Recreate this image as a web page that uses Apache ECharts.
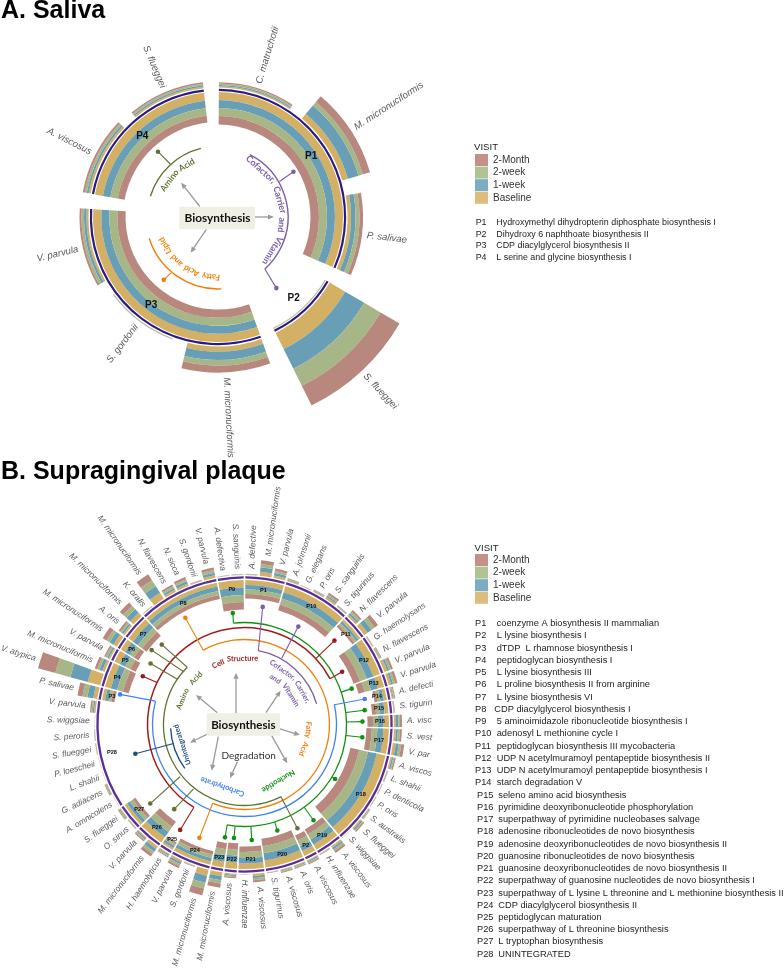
<!DOCTYPE html>
<html><head><meta charset="utf-8">
<style>html,body{margin:0;padding:0;background:#fff}#c{width:784px;height:969px}</style>
<script src="https://cdn.jsdelivr.net/npm/echarts@6/dist/echarts.min.js"></script>
</head><body><div id="c"></div>
<script>
const visits = ['Baseline', '1-week', '2-week', '2-Month'];
const legendOrder = ['2-Month', '2-week', '1-week', 'Baseline'];

// A. Saliva
const salivaSpecies = ['C. matruchotii','M. micronuciformis','P. salivae','S. flueggei','M. micronuciformis','S. gordonii','V. parvula','A. viscosus','S. flueggei'];
const salivaBaseline = [1.3, 6, 3.5, 18, 5, 0.3, 2, 2, 1.5];
const salivaWeek1    = [1.3, 11, 4.5, 22, 8.5, 0.3, 2.5, 2, 1.5];
const salivaWeek2    = [1.3, 4.5, 4, 19, 5.5, 0.3, 2.5, 2, 1.5];
const salivaMonth2   = [1.3, 7.5, 3.5, 22, 7, 0.3, 2, 2, 1.5];
const salivaPathwayIds = ['P1','P2','P3','P4'];
const salivaPathwayNames = ['Hydroxymethyl dihydropterin diphosphate biosynthesis I','Dihydroxy 6 naphthoate biosynthesis II','CDP diacylglycerol biosynthesis II','L serine and glycine biosynthesis I'];
const salivaPathwaySpeciesCount = [3, 1, 3, 2];
const salivaPathBaseline = [8, 0.3, 8.3, 8];
const salivaPathWeek1    = [8, 0.3, 8, 7.5];
const salivaPathWeek2    = [8, 0.3, 8, 7.5];
const salivaPathMonth2   = [8.5, 0.3, 8.2, 7];

// B. Supragingival plaque (species run clockwise from 12 o'clock)
const plaqueSpecies = ['A. defective','M. micronuciformis','V. parvula','A. johnsonii','G. elegans','P. oris','S. sanguinis','S. tigurinus','N. flavescens','V. parvula','G. haemolysans','N. flavescens','V. parvula','V. parvula','A. defecti','S. tigurin','A. visc','S. vest','V. par','A. viscos','L. shahii','P. denticola','P. oris','S. australis','S. flueggei','S. wiggsiae','A. viscosus','H. influenzae','A. viscosus','A. oris','A. viscosus','S. tigurinus','A. viscosus','H. influenzae','A. viscosus','M. micronuciformis','M. micronuciformis','S. gordonii','V. parvula','H. haemolyticus','M. micronuciformis','V. parvula','O. sinus','S. flueggei','A. omnicolens','G. adiacens','L. shahii','P. loescheii','S. flueggei','S. peroris','S. wiggsiae','V. parvula','P. salivae','V. atypica','M. micronuciformis','V. parvula','M. micronuciformis','A. oris','M. micronuciformis','K. oralis','M. micronuciformis','N. flavescens','N. sicca','S. gordonii','V. parvula','A. defectiva','S. sanguinis'];
const plaqueBaseline = [.3,4,2.5,.8,.3,.6,2,.5,2,4,
 .4,.8,3,2.5,.9,.4,2,2,3,1.5,
 .4,.3,.3,.6,1.5,.1,2,.4,1.1,.9,
 .9,.3,2.2,.1,1.1,4,6.5,.4,2.1,1,
 3,1.2,.4,.9,.1,.8,.1,.1,.3,.3,
 .1,1.4,4,13,2.5,1.6,4,1.9,4.5,.3,
 7,2,2.4,.4,2.6,.2,.3];
const plaqueWeek1 = [.3,4.5,2.5,.7,.2,.7,1.5,.5,2,5,
 .4,.7,2,2,.9,.4,2.5,2,3,1.5,
 .4,.3,.3,.7,1.5,.1,2,.4,1.1,.9,
 .9,.2,2.1,.1,1.2,4,7,.4,2.2,1,
 3.5,1.3,.4,.9,.1,.7,.1,.1,.2,.2,
 .1,1.4,6,18,3,1.7,4.5,1.8,5,.2,
 8,2,2.4,.4,2.7,.2,.2];
const plaqueWeek2 = [.3,3,2,.7,.2,.6,1.5,.5,2,4,
 .3,.7,2,2,.8,.3,1.5,2,2.5,1,
 .3,.2,.2,.6,1,.1,2,.3,1.2,.8,
 .8,.2,2.1,.1,1.1,3.5,6,.3,2.1,1,
 2.8,1.2,.3,.8,.1,.7,0,0,.2,.2,
 0,1.3,5,15.5,2.5,1.6,3.5,1.9,4.5,.2,
 7,2,2.3,.3,2.6,.2,.2];
const plaqueMonth2 = [.3,4,2.5,.8,.3,.6,2,.5,2,4,
 .4,.8,2,2.5,.9,.4,2,2,3,1.5,
 .4,.2,.2,.6,1.5,.1,2,.4,1.1,.9,
 .9,.3,2.1,.1,1.1,4,7,.4,2.1,1,
 3.2,1.3,.4,.9,.1,.8,.1,.1,.3,.3,
 .1,1.4,5,18,2.5,1.6,4.5,1.9,4.5,.3,
 7,2,2.4,.4,2.6,.2,.3];
const plaquePathwayIds = ['P1','P10','P11','P12','P13','P14','P15','P16','P17','P18','P19','P2','P20','P21','P22','P23','P24','P25','P26','P27','P28','P3','P4','P5','P6','P7','P8','P9'];
const plaquePathwaySpeciesCount = [3,5,2,3,1,1,1,1,2,7,2,1,3,2,1,1,3,1,2,2,8,1,2,1,1,2,6,2];
const plaquePathBaseline = [5,6.5,2.5,7,6.5,3,4,5.5,5.5,9,6,5.5,7,5.5,6.5,6,3.5,2,6.5,3,0,3,6,6,5,5.5,4,7.5];
const plaquePathWeek1    = [4.5,6.5,2.5,7,7,3.5,4.5,5.5,6,9,6,5.5,7.5,5.5,6.5,6.5,3.5,2.5,6.5,3.5,0,3.5,6.5,6,5.5,6,4.5,7.5];
const plaquePathWeek2    = [4.5,6.5,2.5,7,6.5,3,4,5,5.5,9,5.5,6,7,6,6,6,3.5,2,6,3.5,0,3,6,5.5,5,5.5,4,7];
const plaquePathMonth2   = [4.5,6,2.5,7,6.5,3,4,5.5,5.5,9,6,5.5,7.5,5.5,6.5,6,3.5,2,6.5,3,0,3,6,6,5,5.5,4,7.5];
const plaqueLegendIds = Array.from({length:28},(_,i)=>'P'+(i+1));
const plaquePathwayNames = ['coenzyme A biosynthesis II mammalian','L lysine biosynthesis I','dTDP  L rhamnose biosynthesis I','peptidoglycan biosynthesis I','L lysine biosynthesis III','L proline biosynthesis II from arginine','L lysine biosynthesis VI','CDP diacylglycerol biosynthesis I','5 aminoimidazole ribonucleotide biosynthesis I','adenosyl L methionine cycle I','peptidoglycan biosynthesis III mycobacteria','UDP N acetylmuramoyl pentapeptide biosynthesis II','UDP N acetylmuramoyl pentapeptide biosynthesis I','starch degradation V','seleno amino acid biosynthesis','pyrimidine deoxyribonucleotide phosphorylation','superpathway of pyrimidine nucleobases salvage','adenosine ribonucleotides de novo biosynthesis','adenosine deoxyribonucleotides de novo biosynthesis II','guanosine ribonucleotides de novo biosynthesis','guanosine deoxyribonucleotides de novo biosynthesis II','superpathway of guanosine nucleotides de novo biosynthesis I','superpathway of L lysine L threonine and L methionine biosynthesis II','CDP diacylglycerol biosynthesis II','peptidoglycan maturation','superpathway of L threonine biosynthesis','L tryptophan biosynthesis','UNINTEGRATED'];

// ---------- styles / layout ----------
const barColors = {'Baseline':'#d3b064','1-week':'#689fb6','2-week':'#a7b686','2-Month':'#b8877d'};
const legendColors = {'Baseline':'#ddbc7c','1-week':'#7aacc3','2-week':'#afc393','2-Month':'#c4918a'};
const PURPLE='#7b5ea7', OLIVE='#5f7434', ORANGE='#f07f09', BLUE='#3f83f0', RED='#9c1c1c', GREEN='#109010', NAVY='#1f4e79', GRAY='#9a9a9a';
const SANS='"Liberation Sans"', HUM='Lato';
const mctx=document.createElement('canvas').getContext('2d');

const arc=(r,b0,b1,c,lw)=>({k:'arc',r,b0,b1,c,lw});
const lead=(r0,b0,r1,b1,c)=>({k:'lead',r0,b0,r1,b1,c});
const arrow=(r0,b0,r1,b1)=>({k:'arrow',r0,b0,r1,b1});
const words=(t,r,b0,b1,c,s)=>({k:'words',t,r,b0,b1,c,s});

const annoA=[
 arc(70,27,138,PURPLE,1.4), arc(70.7,287,346,OLIVE,1.4), arc(72,177.3,252.8,ORANGE,1.4),
 lead(71,60,88,59,PURPLE), lead(70,138,92,140.6,PURPLE), lead(71,318,88.7,317.4,OLIVE), lead(73,220,83,220.8,ORANGE),
 words('Cofactor, Carrier and Vitamin',64,25.5,135.6,PURPLE,9), words('Amino Acid',60.6,295,337,OLIVE,8.6), words('Fatty Acid and Lipid',60,178,250,ORANGE,8.2),
 arrow(37,90,56,90), arrow(21,300,50.4,313), arrow(17,223,45,217.5)
];
const annoB=[
 arc(81,153,315,OLIVE,1.3), arc(85,331,562,ORANGE,1.3), arc(92,77.4,284.7,BLUE,1.3), arc(97,211.4,422,RED,1.5), arc(102,353.8,550,GREEN,1.3),
 arc(75,10.4,74,PURPLE,1.3), arc(74,233.7,267,NAVY,1.3),
 lead(81,153.3,116.5,153,OLIVE), lead(81,315,115,314,OLIVE), lead(80,311,119,308.7,OLIVE), lead(81,304,112,303,OLIVE), lead(83,231,123,230,OLIVE), lead(82,218.4,110,219.7,OLIVE),
 lead(97,211.4,123.5,211.4,RED), lead(97,61.8,111,61.6,RED), lead(97,47.3,123,47,RED), lead(97,295.6,112.6,295.4,RED),
 lead(85,331,122,331,ORANGE), lead(85,202,122,201.7,ORANGE),
 lead(92,77.6,123,78,BLUE), lead(92,284.7,128,283.6,BLUE),
 lead(102,353.8,112,354,GREEN), lead(102,71.5,113,71.5,GREEN), lead(102,83.2,121,83.2,GREEN), lead(102,88.6,118,88.6,GREEN), lead(102,96.2,118.5,96.2,GREEN), lead(102,121,105.7,121,GREEN), lead(102,144.2,118,144.2,GREEN), lead(102,162.8,111,162.8,GREEN), lead(102,176.4,115.7,176.4,GREEN), lead(102,185.3,114,185.3,GREEN), lead(102,189.8,114.5,189.8,GREEN),
 lead(75,10.6,119,8.8,PURPLE), lead(76,29.3,111.7,28.8,PURPLE), lead(73.5,255,113,255,NAVY),
 words('Cell Structure',66,331,372,RED,7.6), words('Cofactor, Carrier,',66.5,22,71,PURPLE,7.4), words('and Vitamin',55,27.7,71,PURPLE,7.4), words('Amino Acid',67,283,320,OLIVE,7.6), words('Fatty Acid',64,87.5,119,ORANGE,7.4), words('Nucleotide',66,131.5,166.8,GREEN,7.6), words('Carbohydrate',66,178,221,BLUE,7.6), words('Unintegrated',65.5,235,269,NAVY,7.2),
 arrow(14,322.7,52.5,350.7), arrow(29.6,293.5,56.8,301.3), arrow(24.5,61.2,49.5,46.9), arrow(35.8,97.2,56.5,100.7), arrow(29.4,112.3,57.8,132.2), arrow(28.9,245,56.7,215.4), arrow(39,255.4,57.5,251.6), arrow(37.8,190.9,55.7,195)
];

// ---------- render helpers ----------
function sectorItem(params,api){
 const c=params.coordSys, r1=api.value(0), r2=api.value(1), v0=api.value(2), v1=api.value(3);
 if(r1===r2) return {type:'group',children:[]};
 const N=api.value(4);
 const p=api.coord([r1,v0]), q=api.coord([r2,v0]);
 const a=Math.atan2(p[1]-c.cy,p[0]-c.cx);
 const ra=Math.hypot(p[0]-c.cx,p[1]-c.cy), rb=Math.hypot(q[0]-c.cx,q[1]-c.cy);
 return {type:'sector',shape:{cx:c.cx,cy:c.cy,r0:Math.min(ra,rb),r:Math.max(ra,rb),startAngle:a,endAngle:a+(v1-v0)/N*2*Math.PI,clockwise:true},style:{fill:api.visual('color')}};
}
function makeStack(polarIndex,N,s0,s1,edge,sign,arrs){
 const rows=visits.map(()=>[]);
 s0.forEach((_,i)=>{let r=edge;arrs.forEach((a,v)=>{const n=r+sign*a[i];rows[v].push([r,n,s0[i],s1[i],N]);r=n;});});
 return visits.map((name,v)=>({type:'custom',name,coordinateSystem:'polar',polarIndex,silent:true,animation:false,itemStyle:{color:barColors[name]},renderItem:sectorItem,data:rows[v]}));
}
function ringSeries(polarIndex,N,s0,s1,r0,r1,color){
 return {type:'custom',name:'ring',coordinateSystem:'polar',polarIndex,silent:true,animation:false,itemStyle:{color},renderItem:sectorItem,data:s0.map((_,i)=>[r0,r1,s0[i],s1[i],N])};
}
function speciesLabels(polarIndex,N,names,centers,tops,offset,size){
 return {type:'custom',name:'species',coordinateSystem:'polar',polarIndex,silent:true,animation:false,
  data:names.map((_,i)=>[tops[i]+offset,centers[i]]),
  renderItem(params,api){
   const r=api.value(0),v=api.value(1),b=v/N*360,p=api.coord([r,v]),left=b>180;
   return {type:'text',x:p[0],y:p[1],rotation:(left?270-b:90-b)*Math.PI/180,style:{text:names[params.dataIndex],align:left?'right':'left',verticalAlign:'middle',fill:'#5a5a5a',fontStyle:'italic',fontSize:size,fontFamily:SANS}};
  }};
}
function pathLabels(polarIndex,ids,centers,r,size){
 return {type:'custom',name:'pathway',coordinateSystem:'polar',polarIndex,silent:true,animation:false,
  data:ids.map((_,i)=>[r,centers[i]]),
  renderItem(params,api){
   const p=api.coord([api.value(0),api.value(1)]);
   return {type:'text',x:p[0],y:p[1],style:{text:ids[params.dataIndex],align:'center',verticalAlign:'middle',fill:'#111',fontWeight:'bold',fontSize:size,fontFamily:SANS}};
  }};
}
function annoSeries(polarIndex,N,items){
 const V=b=>b/360*N;
 return {type:'custom',name:'tree',coordinateSystem:'polar',polarIndex,silent:true,animation:false,
  data:items.map(()=>[0,0]),
  renderItem(params,api){
   const a=items[params.dataIndex],c=params.coordSys,P=(r,b)=>api.coord([r,V(b)]);
   if(a.k==='arc'){
    const p=P(a.r,a.b0),s=Math.atan2(p[1]-c.cy,p[0]-c.cx);
    return {type:'arc',shape:{cx:c.cx,cy:c.cy,r:Math.hypot(p[0]-c.cx,p[1]-c.cy),startAngle:s,endAngle:s+(a.b1-a.b0)*Math.PI/180,clockwise:true},style:{stroke:a.c,lineWidth:a.lw,fill:null}};
   }
   if(a.k==='lead'){
    const p=P(a.r0,a.b0),q=P(a.r1,a.b1);
    return {type:'group',children:[
     {type:'line',shape:{x1:p[0],y1:p[1],x2:q[0],y2:q[1]},style:{stroke:a.c,lineWidth:1.1}},
     {type:'circle',shape:{cx:q[0],cy:q[1],r:2.3},style:{fill:a.c}}]};
   }
   if(a.k==='arrow'){
    const p=P(a.r0,a.b0),q=P(a.r1,a.b1),t=Math.atan2(q[1]-p[1],q[0]-p[0]),L=6,W=2.6;
    const bx=q[0]-L*Math.cos(t),by=q[1]-L*Math.sin(t);
    return {type:'group',children:[
     {type:'line',shape:{x1:p[0],y1:p[1],x2:bx,y2:by},style:{stroke:GRAY,lineWidth:1.3}},
     {type:'polygon',shape:{points:[[q[0],q[1]],[bx-W*Math.sin(t),by+W*Math.cos(t)],[bx+W*Math.sin(t),by-W*Math.cos(t)]]},style:{fill:GRAY}}]};
   }
   const font='bold '+a.s+'px '+HUM;
   mctx.font=font;
   const ws=a.t.split(' '),w=ws.map(x=>mctx.measureText(x).width),sum=w.reduce((x,y)=>x+y,0);
   const len=(a.b1-a.b0)*Math.PI/180*a.r,gap=ws.length>1?(len-sum)/(ws.length-1):0;
   let cur=ws.length>1?0:(len-sum)/2;
   return {type:'group',children:ws.map((t,i)=>{
    const b=a.b0+(cur+w[i]/2)/len*(a.b1-a.b0);cur+=w[i]+gap;
    const p=P(a.r,b);
    return {type:'text',x:p[0],y:p[1],rotation:-b*Math.PI/180,style:{text:t,align:'center',verticalAlign:'middle',fill:a.c,fontWeight:'bold',fontSize:a.s,fontFamily:HUM}};
   })};
  }};
}
function cumulative(counts){let s=0;return counts.map(c=>{const o=s;s+=c;return o;});}
function sumRows(arrs,i){return arrs.reduce((t,a)=>t+a[i],0);}

// ---------- A ----------
const NA=salivaSpecies.length;
const aOuter=[salivaBaseline,salivaWeek1,salivaWeek2,salivaMonth2];
const aInner=[salivaPathBaseline,salivaPathWeek1,salivaPathWeek2,salivaPathMonth2];
const aS0=salivaSpecies.map((_,i)=>i+0.01), aS1=salivaSpecies.map((_,i)=>i+0.84);
const aP=cumulative(salivaPathwaySpeciesCount);
const aP0=aP.map(s=>s+0.01), aP1=aP.map((s,i)=>s+salivaPathwaySpeciesCount[i]-0.16);
const aTops=salivaSpecies.map((_,i)=>129.5+sumRows(aOuter,i));
// ---------- B ----------
const NB=plaqueSpecies.length;
const bOuter=[plaqueBaseline,plaqueWeek1,plaqueWeek2,plaqueMonth2];
const bInner=[plaquePathBaseline,plaquePathWeek1,plaquePathWeek2,plaquePathMonth2];
const bS0=plaqueSpecies.map((_,i)=>i+0.08), bS1=plaqueSpecies.map((_,i)=>i+0.92);
const bP=cumulative(plaquePathwaySpeciesCount);
const bP0=bP.map(s=>s+0.06), bP1=bP.map((s,i)=>s+plaquePathwaySpeciesCount[i]-0.06);
const bTops=plaqueSpecies.map((_,i)=>149.5+sumRows(bOuter,i));

const series=[
 ...makeStack(0,NA,aS0,aS1,129.5,1,aOuter),
 ...makeStack(0,NA,aP0,aP1,125,-1,aInner),
 ringSeries(0,NA,aP0,aP1,126,128.2,'#2b1b80'),
 speciesLabels(0,NA,salivaSpecies,salivaSpecies.map((_,i)=>i+0.425),aTops,5,9.6),
 pathLabels(0,salivaPathwayIds,aP.map((s,i)=>(aP0[i]+aP1[i])/2),111,10),
 annoSeries(0,NA,annoA),
 ...makeStack(1,NB,bS0,bS1,149.5,1,bOuter),
 ...makeStack(1,NB,bP0,bP1,144.5,-1,bInner),
 ringSeries(1,NB,bP0,bP1,145.9,148.2,'#5a2d96'),
 speciesLabels(1,NB,plaqueSpecies,plaqueSpecies.map((_,i)=>i+0.5),bTops,5,8.4),
 pathLabels(1,plaquePathwayIds,bP.map((s,i)=>(bP0[i]+bP1[i])/2),135.5,5.6),
 annoSeries(1,NB,annoB)
];

const txt=(text,x,y,size,extra)=>Object.assign({type:'text',x,y,z:20,style:Object.assign({text,fill:'#222',fontSize:size,fontFamily:SANS,verticalAlign:'middle'},extra||{})});
const graphics=[
 txt('A. Saliva',1,11,25,{fontWeight:'bold',fill:'#000'}),
 txt('B. Supragingival plaque',1,472,25,{fontWeight:'bold',fill:'#000'}),
 txt('VISIT',474,147.7,9.6),
 txt('VISIT',474.6,548,9.6),
 {type:'rect',z:20,shape:{x:179.3,y:206.7,width:75.7,height:22.6},style:{fill:'#efefe3'}},
 txt('Biosynthesis',217.5,218,11.8,{fontWeight:'bold',align:'center',fill:'#111',fontFamily:HUM}),
 {type:'rect',z:20,shape:{x:206.7,y:713.3,width:73.3,height:22.4},style:{fill:'#efefe3'}},
 txt('Biosynthesis',243.3,725,11.5,{fontWeight:'bold',align:'center',fill:'#111',fontFamily:HUM}),
 txt('Degradation',248.7,755.7,10,{align:'center',fill:'#333',fontFamily:HUM,shadowColor:'rgba(0,0,0,0.45)',shadowBlur:3,shadowOffsetY:1.5})
];
salivaPathwayIds.forEach((id,i)=>{const y=222.7+i*11.6;
 graphics.push(txt(id,475.7,y,8.9),txt(salivaPathwayNames[i],496.3,y,8.9));});
plaqueLegendIds.forEach((id,i)=>{const y=623.7+i*12.24;
 graphics.push(txt(id,i<14?475:477,y,9.25),txt(plaquePathwayNames[i],i===7?494.3:(i<14?496.7:498.3),y,9.25));});

const legendBase=(top)=>({orient:'vertical',left:475,top,padding:0,itemWidth:13,itemHeight:12,itemGap:0.6,selectedMode:false,icon:'rect',
 textStyle:{fontSize:10,color:'#333',fontFamily:SANS},
 data:legendOrder.map(name=>({name,itemStyle:{color:legendColors[name],borderWidth:0}}))});
const ax=(N)=>({type:'value',min:0,max:N,startAngle:90,clockwise:true,show:false});
const chart=echarts.init(document.getElementById('c'));
chart.setOption({
 backgroundColor:'#fff',animation:false,
 legend:[legendBase(154),legendBase(554)],
 polar:[{center:[218,217],radius:220},{center:[244.5,724.5],radius:220}],
 angleAxis:[Object.assign(ax(NA),{polarIndex:0}),Object.assign(ax(NB),{polarIndex:1})],
 radiusAxis:[{polarIndex:0,type:'value',min:0,max:220,show:false},{polarIndex:1,type:'value',min:0,max:220,show:false}],
 series,
 graphic:{elements:graphics}
});
</script></body></html>
